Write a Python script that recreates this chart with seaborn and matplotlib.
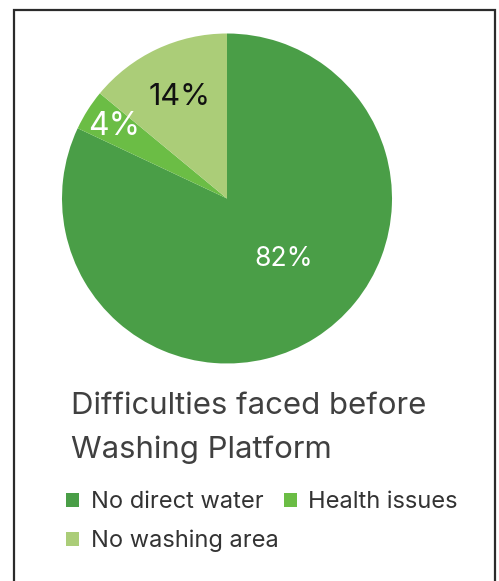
import numpy as np
import matplotlib
matplotlib.use("Agg")
import matplotlib.pyplot as plt
from matplotlib.patches import Rectangle
import seaborn as sns

# Survey shares of difficulties faced before the washing platform was built
categories = ["No direct water", "Health issues", "No washing area"]
shares = [82, 4, 14]
colors = ["#4a9e47", "#6bbd45", "#abcd78"]
label_colors = ["white", "white", "#111111"]

sns.set_theme(style="white")
plt.rcParams["font.family"] = ["Inter", "DejaVu Sans"]

W, H = 499, 581
fig = plt.figure(figsize=(W / 100, H / 100), dpi=100)
fig.patch.set_facecolor("white")

# Frame around the card (runs past the bottom edge)
fig.patches.append(Rectangle((14 / W, -0.05), (495 - 14) / W, (H - 10) / H + 0.05,
                             transform=fig.transFigure, fill=False,
                             edgecolor="#2b2b2b", linewidth=1.6, zorder=5))

# Pie axes: centre (227, 198) px, radius 165 px
cx, cy, r = 227, 198.5, 165
ax = fig.add_axes([(cx - r) / W, (H - cy - r) / H, 2 * r / W, 2 * r / H])
wedges, _ = ax.pie(shares, colors=colors, startangle=90, counterclock=False,
                   radius=1.0, wedgeprops=dict(linewidth=0))
ax.set_xlim(-1, 1)
ax.set_ylim(-1, 1)
ax.set_aspect("equal")
ax.axis("off")

# Percentage labels placed along each wedge
label_pos = {0: (0.5, -47), 1: (0.81, None), 2: (0.68, None)}
label_size = {0: 19, 1: 23, 2: 22}
for i, w in enumerate(wedges):
    dist, ang = label_pos[i]
    if ang is None:
        ang = (w.theta1 + w.theta2) / 2
    x = dist * np.cos(np.deg2rad(ang))
    y = dist * np.sin(np.deg2rad(ang))
    ax.text(x, y, f"{shares[i]}%", ha="center", va="center",
            color=label_colors[i], fontsize=label_size[i])

# Title
fig.text(71 / W, 1 - 406 / H, "Difficulties faced before", ha="left", va="center",
         fontsize=22.4, color="#404040")
fig.text(71 / W, 1 - 450 / H, "Washing Platform", ha="left", va="center",
         fontsize=22.4, color="#404040")

# Legend (column-major fill, so reorder to read row by row)
order = [0, 2, 1]
handles = [Rectangle((0, 0), 1, 1, facecolor=colors[i], edgecolor="none") for i in order]
fig.legend(handles, [categories[i] for i in order], loc="upper left",
           bbox_to_anchor=(45 / W, 1 - 470 / H), ncol=2, frameon=False,
           fontsize=17, handlelength=0.55, handleheight=0.55,
           handletextpad=0.5, columnspacing=0.2, labelspacing=0.7,
           labelcolor="#333333")

fig.savefig("out.png", dpi=100, facecolor="white")
